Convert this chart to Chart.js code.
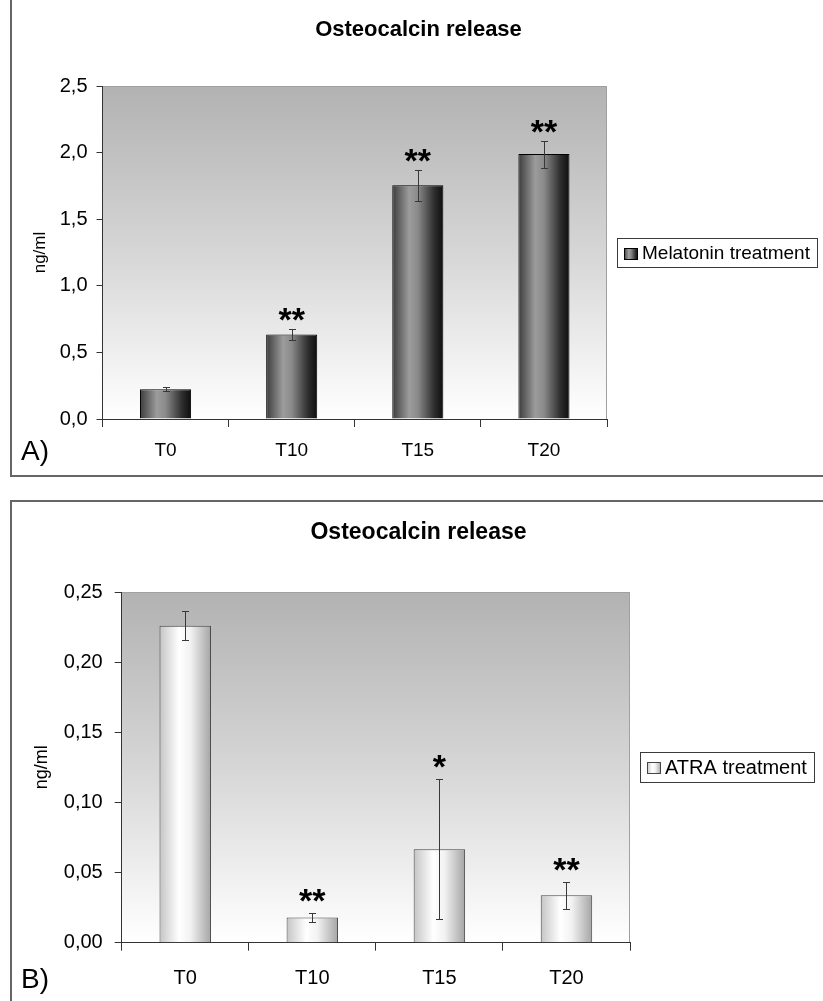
<!DOCTYPE html>
<html><head><meta charset="utf-8">
<script src="https://cdn.jsdelivr.net/npm/chart.js@4.4.1/dist/chart.umd.min.js"></script>
<style>
html,body{margin:0;padding:0;background:#fff;width:823px;height:1001px;overflow:hidden;}
.frame{position:absolute;box-sizing:border-box;}
#f1{left:10px;top:-5px;width:830px;height:482px;border-left:2px solid #666;border-bottom:2px solid #666;}
#f2{left:10px;top:500px;width:830px;height:510px;border-top:2px solid #666;border-left:2px solid #666;}
canvas{position:absolute;}
#c1{left:14px;top:0;}
#c2{left:14px;top:502px;}
</style></head><body>
<div class="frame" id="f1"></div><div class="frame" id="f2"></div>
<canvas id="c1" width="809" height="476"></canvas>
<canvas id="c2" width="809" height="499"></canvas>
<script>
// ---- data ----
const categories = ['T0', 'T10', 'T15', 'T20'];
const titleText = 'Osteocalcin release';
const yAxisTitle = 'ng/ml';

const melatoninLabel = 'Melatonin treatment';
const melatoninValues = [0.223, 0.635, 1.754, 1.989];
const melatoninErrors = [0.016, 0.043, 0.117, 0.101];
const melatoninStars = ['', '**', '**', '**'];
const melatoninTicks = ['0,0', '0,5', '1,0', '1,5', '2,0', '2,5'];

const atraLabel = 'ATRA treatment';
const atraValues = [0.226, 0.018, 0.0666, 0.0338];
const atraErrors = [0.0105, 0.003, 0.050, 0.0095];
const atraStars = ['', '**', '*', '**'];
const atraTicks = ['0,00', '0,05', '0,10', '0,15', '0,20', '0,25'];

// ---- style ----
const FONT = "'Liberation Sans', Arial, Helvetica, sans-serif";
const BAR_PCT = 0.405;
const darkStops = [[0, '#3c3c3c'], [0.33, '#9c9c9c'], [0.5, '#8a8a8a'], [0.82, '#2e2e2e'], [1, '#0e0e0e']];
const lightStops = [[0, '#c4c4c4'], [0.38, '#ffffff'], [0.6, '#f2f2f2'], [1, '#a4a4a4']];

function barFill(stops) {
  return (c) => {
    const chart = c.chart, xs = chart.scales && chart.scales.x;
    if (!xs || c.dataIndex === undefined) return stops[1][1];
    const x = xs.getPixelForValue(c.dataIndex);
    const w = xs.width / chart.data.labels.length * BAR_PCT;
    if (!isFinite(x) || !(w > 0)) return stops[1][1];
    const g = chart.ctx.createLinearGradient(x - w / 2, 0, x + w / 2, 0);
    stops.forEach(([o, col]) => g.addColorStop(o, col));
    return g;
  };
}

const decor = {
  id: 'decor',
  beforeDraw(chart) {
    const {ctx, chartArea: a} = chart;
    ctx.save();
    const g = ctx.createLinearGradient(0, a.top, 0, a.bottom);
    g.addColorStop(0, '#b2b2b2');
    g.addColorStop(0.5, '#d6d6d6');
    g.addColorStop(1, '#ffffff');
    ctx.fillStyle = g;
    ctx.fillRect(a.left, a.top, a.right - a.left, a.bottom - a.top);
    ctx.strokeStyle = '#a0a0a0';
    ctx.lineWidth = 1;
    ctx.beginPath();
    ctx.moveTo(a.left, Math.round(a.top) + 0.5);
    ctx.lineTo(Math.round(a.right) - 0.5, Math.round(a.top) + 0.5);
    ctx.lineTo(Math.round(a.right) - 0.5, a.bottom);
    ctx.stroke();
    ctx.restore();
  },
  afterDatasetsDraw(chart, args, o) {
    const {ctx} = chart;
    const ys = chart.scales.y;
    const meta = chart.getDatasetMeta(0);
    const ds = chart.data.datasets[0];
    ctx.save();
    meta.data.forEach((bar, i) => {
      const v = ds.data[i], e = o.errors[i];
      const yt = Math.round(ys.getPixelForValue(v + e)) + 0.5;
      const yb = Math.round(ys.getPixelForValue(v - e)) + 0.5;
      const x = Math.round(bar.x) + 0.5;
      ctx.strokeStyle = '#383838';
      ctx.lineWidth = 1;
      ctx.beginPath();
      ctx.moveTo(x, yt); ctx.lineTo(x, yb);
      ctx.moveTo(x - 3.5, yt); ctx.lineTo(x + 3.5, yt);
      ctx.moveTo(x - 3.5, yb); ctx.lineTo(x + 3.5, yb);
      ctx.stroke();
      if (o.stars[i]) {
        ctx.fillStyle = '#000';
        ctx.font = `bold ${o.starSize}px ${FONT}`;
        ctx.textAlign = 'center';
        ctx.textBaseline = 'alphabetic';
        ctx.fillText(o.stars[i], bar.x, yt + o.starShift);
      }
    });
    ctx.restore();
  },
  afterDraw(chart, args, o) {
    const {ctx, chartArea: a} = chart;
    const ds = chart.data.datasets[0];
    ctx.save();
    // title
    ctx.fillStyle = '#000';
    ctx.font = `bold ${o.titleSize}px ${FONT}`;
    ctx.textAlign = 'center';
    ctx.textBaseline = 'middle';
    ctx.fillText(o.title, chart.width / 2, o.titleY);
    // legend
    ctx.font = `${o.legendSize}px ${FONT}`;
    const tw = ctx.measureText(ds.label).width;
    const sw = 14, sh = 12, padL = 7, gap = 4, padR = 7;
    const bh = o.legendH;
    const bx = Math.round(a.right + o.legendGap);
    const by = Math.round((a.top + a.bottom) / 2 - bh / 2);
    const bw = Math.round(padL + sw + gap + tw + padR);
    ctx.fillStyle = '#fff';
    ctx.fillRect(bx, by, bw, bh);
    ctx.strokeStyle = '#3a3a3a';
    ctx.lineWidth = 1;
    ctx.strokeRect(bx + 0.5, by + 0.5, bw, bh);
    const sx = bx + padL, sy = Math.round(by + (bh - sh) / 2) + 1;
    const g = ctx.createLinearGradient(sx, 0, sx + sw, 0);
    o.swatch.forEach(([p, col]) => g.addColorStop(p, col));
    ctx.fillStyle = g;
    ctx.fillRect(sx, sy, sw, sh);
    ctx.strokeStyle = o.swatchBorder;
    ctx.strokeRect(sx + 0.5, sy + 0.5, sw - 1, sh - 1);
    ctx.fillStyle = '#000';
    ctx.textAlign = 'left';
    ctx.textBaseline = 'middle';
    ctx.fillText(ds.label, sx + sw + gap, by + bh / 2 + 1);
    // panel label
    ctx.font = `${o.panelSize}px ${FONT}`;
    ctx.textBaseline = 'alphabetic';
    ctx.fillText(o.panel, o.panelX, o.panelY);
    ctx.restore();
  }
};

function makeChart(id, cfg) {
  return new Chart(document.getElementById(id), {
    type: 'bar',
    data: {
      labels: categories,
      datasets: [{
        label: cfg.label,
        data: cfg.values,
        backgroundColor: barFill(cfg.stops),
        borderColor: cfg.border,
        borderWidth: 1,
        barPercentage: BAR_PCT,
        categoryPercentage: 1
      }]
    },
    options: {
      responsive: false,
      animation: false,
      events: [],
      layout: {padding: {left: 0, right: cfg.padRight, top: cfg.padTop, bottom: 0}},
      plugins: {
        legend: {display: false},
        tooltip: {enabled: false},
        title: {display: false},
        decor: {
          title: titleText, titleSize: cfg.titleSize, titleY: cfg.titleY,
          errors: cfg.errors, stars: cfg.stars, starSize: 34, starShift: cfg.starShift,
          legendSize: cfg.legendSize, legendH: cfg.legendH, legendGap: 10,
          swatch: cfg.stops, swatchBorder: cfg.border,
          panel: cfg.panel, panelSize: 28, panelX: 7, panelY: cfg.panelY
        }
      },
      scales: {
        x: {
          type: 'category',
          offset: true,
          grid: {offset: true, drawOnChartArea: false, tickLength: 8, color: '#333', lineWidth: 1},
          border: {color: '#333', width: 1},
          ticks: {color: '#000', font: {family: FONT, size: cfg.xSize}, padding: cfg.xPad, maxRotation: 0, autoSkip: false},
          afterFit: s => { s.height = cfg.xH; }
        },
        y: {
          min: 0, max: cfg.max,
          ticks: {
            stepSize: cfg.step, color: '#000',
            font: {family: FONT, size: cfg.ySize}, padding: cfg.yPad,
            callback: v => cfg.ticks[Math.round(v / cfg.step)]
          },
          grid: {drawOnChartArea: false, tickLength: cfg.yTick, color: '#333'},
          border: {color: '#333', width: 1},
          title: {display: true, text: yAxisTitle, color: '#000', font: {family: FONT, size: cfg.yTitleSize}, padding: {top: cfg.yTitlePad, bottom: 0}},
          afterFit: s => { s.width = cfg.yW; }
        }
      }
    },
    plugins: [decor]
  });
}

makeChart('c1', {
  label: melatoninLabel, values: melatoninValues, errors: melatoninErrors, stars: melatoninStars,
  ticks: melatoninTicks, max: 2.5, step: 0.5,
  stops: darkStops, border: '#000',
  padRight: 216, padTop: 86, titleSize: 22, titleY: 30,
  xSize: 19, xPad: 12, xH: 57,
  ySize: 20, yPad: 9, yTick: 6, yW: 88.5, yTitleSize: 17, yTitlePad: 16,
  starShift: 1, legendSize: 19, legendH: 29,
  panel: 'A)', panelY: 460
});

makeChart('c2', {
  label: atraLabel, values: atraValues, errors: atraErrors, stars: atraStars,
  ticks: atraTicks, max: 0.25, step: 0.05,
  stops: lightStops, border: '#454545',
  padRight: 193, padTop: 90, titleSize: 23, titleY: 31,
  xSize: 20, xPad: 15.5, xH: 58.3,
  ySize: 20, yPad: 12, yTick: 7, yW: 107.7, yTitleSize: 18, yTitlePad: 17,
  starShift: -2, legendSize: 20, legendH: 30,
  panel: 'B)', panelY: 486
});
</script>
</body></html>
